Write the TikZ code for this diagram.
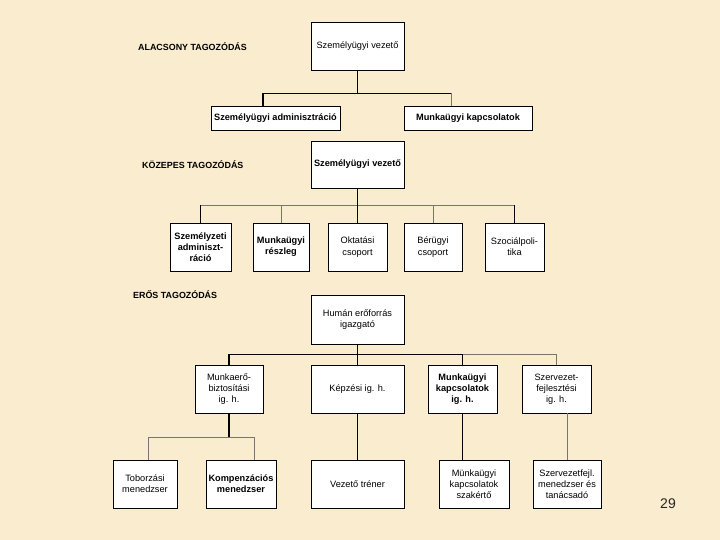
\documentclass[tikz,border=0pt]{standalone}
\usepackage{fontspec}
\setmainfont{Liberation Sans}
\definecolor{bgc}{RGB}{250,236,207}
\definecolor{thinc}{RGB}{120,118,108}
\begin{document}
\begin{tikzpicture}[x=1pt,y=-1pt,
  box/.style={draw=black, fill=white, line width=0.9pt, inner sep=0pt, align=center,
    font=\fontsize{9.2}{11.2}\selectfont},
  boxb/.style={box, font=\fontsize{9.2}{11.2}\selectfont\bfseries},
  lbl/.style={anchor=west, inner sep=0pt, font=\fontsize{8.9}{10}\selectfont\bfseries},
  blk/.style={draw=black, line width=1.1pt},
  gry/.style={draw=thinc, line width=0.7pt}]
\fill[bgc] (0,0) rectangle (720,540);
\useasboundingbox (0,0) rectangle (720,540);

% ---------- ALACSONY ----------
\node[lbl] (l1) at (138,47) {ALACSONY TAGOZÓDÁS};
\node[box, minimum width=93pt, minimum height=48pt] (tv) at (357.5,46) {Személyügyi vezető};
\node[boxb, minimum width=129pt, minimum height=24pt] (tadm) at (275.5,118) {Személyügyi adminisztráció};
\node[boxb, minimum width=128pt, minimum height=24pt] (tmk) at (468,118) {Munkaügyi kapcsolatok};
\draw[blk] (tv.south) -- ++(0,23) coordinate (tj);
\coordinate (ta) at ([xshift=-12.5pt]tadm.north);
\coordinate (tb) at ([xshift=-17pt]tmk.north);
\draw[blk] (ta) |- (tj) -- (tj -| tb);
\draw[gry] (tj -| tb) -- (tb);

% ---------- KOZEPES ----------
\node[lbl] (l2) at (142,165) {KÖZEPES TAGOZÓDÁS};
\node[boxb, minimum width=93pt, minimum height=47pt] (mv) at (357.5,164.5) {Személyügyi vezető};
\node[boxb, minimum width=61pt, minimum height=48pt] (m1) at (200.5,247) {Személyzeti\\adminiszt-\\ráció};
\node[boxb, minimum width=56pt, minimum height=48pt] (m2) at (281,247) {Munkaügyi\\részleg};
\node[box, minimum width=59pt, minimum height=48pt] (m3) at (357.5,247) {Oktatási\\csoport};
\node[box, minimum width=58pt, minimum height=48pt] (m4) at (433,247) {Bérügyi\\csoport};
\node[box, minimum width=59pt, minimum height=48pt] (m5) at (514.5,247) {Szociálpoli-\\tika};
\draw[blk] (mv.south) -- ++(0,16.5) coordinate (mj);
\draw[gry] (m1.north |- mj) -- (m5.north |- mj);
\draw[blk] (m1.north) -- (m1.north |- mj);
\draw[gry] (m2.north) -- (m2.north |- mj);
\draw[blk] (m3.north) -- (m3.north |- mj);
\draw[gry] (m4.north) -- (m4.north |- mj);
\draw[blk] (m5.north) -- (m5.north |- mj);

% ---------- EROS ----------
\node[lbl] (l3) at (133,295) {ERŐS TAGOZÓDÁS};
\node[box, minimum width=93pt, minimum height=49pt] (bh) at (357.5,319.5) {Humán erőforrás\\igazgató};
\node[box, minimum width=68pt, minimum height=48pt] (b1) at (229,389) {Munkaerő-\\biztosítási\\ig. h.};
\node[box, minimum width=93pt, minimum height=48pt] (b2) at (357.5,389) {Képzési ig. h.};
\node[boxb, minimum width=69pt, minimum height=48pt] (b3) at (462.5,389) {Munkaügyi\\kapcsolatok\\ig. h.};
\node[box, minimum width=69pt, minimum height=48pt] (b4) at (556.5,389) {Szervezet-\\fejlesztési\\ig. h.};

\node[box, minimum width=64pt, minimum height=48pt] (c1) at (145,484) {Toborzási\\menedzser};
\node[boxb, minimum width=70pt, minimum height=48pt] (c2) at (241,484) {Kompenzációs\\menedzser};
\node[box, minimum width=93pt, minimum height=48pt] (c3) at (357.5,484) {Vezető tréner};
\node[box, minimum width=70pt, minimum height=48pt] (c4) at (474,484) {Münkaügyi\\kapcsolatok\\szakértő};
\node[box, minimum width=68pt, minimum height=48pt] (c5) at (567,484) {Szervezetfejl.\\menedzser és\\tanácsadó};

\draw[blk] (bh.south) -- ++(0,10) coordinate (bj);
\draw[blk] (b1.north |- bj) -- (b3.north |- bj);
\draw[gry] (b3.north |- bj) -- (b4.north |- bj);
\draw[blk] (b1.north) -- (b1.north |- bj);
\draw[blk] (b2.north) -- (b2.north |- bj);
\draw[blk] (b3.north) -- (b3.north |- bj);
\draw[gry] (b4.north) -- (b4.north |- bj);

\draw[blk] (b1.south) -- ++(0,24) coordinate (cj);
\coordinate (c1t) at ([xshift=3pt]c1.north);
\coordinate (c2t) at ([xshift=13pt]c2.north);
\draw[gry] (c1t) |- (cj) -| (c2t);
\draw[blk] (b2.south) -- (c3.north);
\draw[blk] (b3.south) -- (b3.south |- c4.north);
\draw[gry] (c5.north) -- (c5.north |- b4.south);

\node[inner sep=0pt, font=\fontsize{14}{16}\selectfont, text=black!85] (pg) at (668,504) {29};
\end{tikzpicture}
\end{document}
